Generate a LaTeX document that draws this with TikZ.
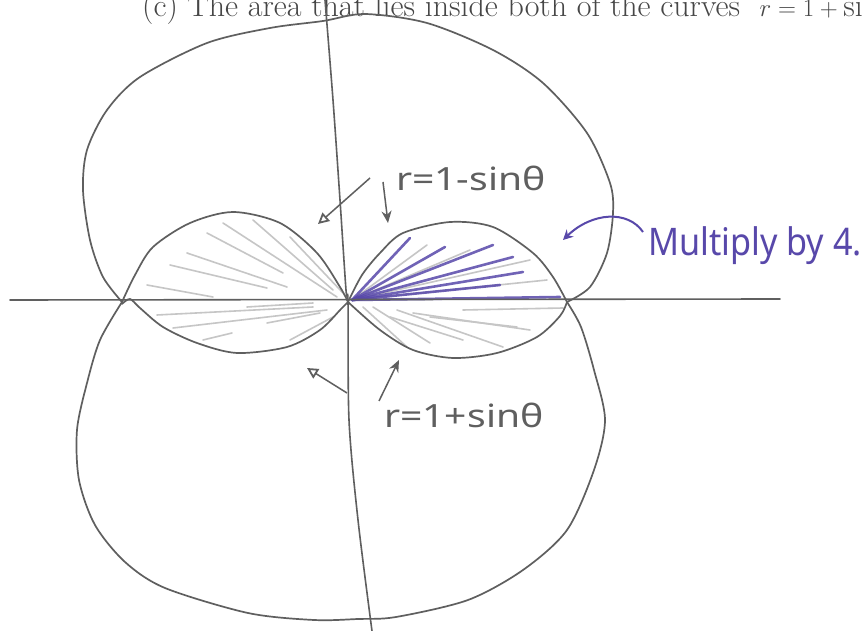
\documentclass[tikz,border=0pt]{standalone}
\usepackage{fontspec}
\newfontfamily\hand{Noto Sans}
\usetikzlibrary{arrows.meta}
\definecolor{ink}{RGB}{95,95,95}
\definecolor{hatch}{RGB}{198,198,198}
\definecolor{pen}{RGB}{88,72,170}
\definecolor{print}{RGB}{70,70,70}
\tikzset{
  curve/.style={draw=ink, line width=1.7pt, line join=round, line cap=round},
  axis/.style={draw=ink, line width=1.6pt, line cap=round},
  hatchline/.style={draw=hatch, line width=1.6pt, line cap=round},
  purpleline/.style={draw=pen, line width=2.6pt, line cap=round, opacity=0.85},
  openarrow/.style={draw=ink, line width=1.5pt, -{Triangle[open,length=11pt,width=11pt,line width=1.8pt]}},
  solidarrow/.style={draw=ink, line width=1.5pt, -{Stealth[length=12pt,width=10pt]}},
  penarrow/.style={draw=pen, line width=2pt, -{Stealth[length=10pt,width=10pt]}},
  lab/.style={text=ink, inner sep=0pt, font=\hand\fontsize{32}{34}\selectfont},
}
\begin{document}
\begin{tikzpicture}[x=1pt,y=-1pt]
\useasboundingbox (0,0) rectangle (863,631);
\clip (0,0) rectangle (863,631);
\fill[white] (0,0) rectangle (863,631);

% title (cut off by the page edge, as in the scan)
\node[anchor=base west, inner sep=0pt, text=print, font=\fontsize{32}{34}\selectfont] (title) at (142,17)
  {(c) The area that lies inside both of the curves \ $r = 1+\sin\theta$};

% hatching, left lens
\foreach \a/\b in {{(223,223)/(337,297)},{(253,220)/(333,290)},{(290,237)/(343,293)},{(207,233)/(283,273)},
  {(187,253)/(287,287)},{(170,265)/(267,288)},{(147,285)/(213,297)},
  {(157,315)/(313,307)},{(173,328)/(327,310)},{(203,340)/(232,333)},{(267,323)/(320,313)},
  {(290,340)/(333,317)},{(247,307)/(313,303)}}
  {\draw[hatchline] \a -- \b;}
% hatching, right lens bottom
\foreach \a/\b in {{(363,307)/(407,347)},{(373,307)/(430,343)},{(397,310)/(503,347)},{(413,313)/(530,330)},
  {(430,317)/(517,327)},{(463,310)/(563,308)},{(390,317)/(463,340)}}
  {\draw[hatchline] \a -- \b;}
% hatching, right lens top (grey)
\foreach \b in {(427,245),(530,260),(547,280),(470,250)}
  {\draw[hatchline] (352,300) -- \b;}
% purple strokes
\foreach \b in {(410,238),(445,247),(493,245),(513,257),(523,272),(560,297),(500,285)}
  {\draw[purpleline] (352,300) -- \b;}

% axes
\draw[axis] (10,300) -- (780,299);
\draw[axis] plot[smooth] coordinates {(325,0) (333,100) (340,200) (346,290) (348,302) (349,420) (358,520) (372,631)};

% big upper curve
\draw[curve] plot[smooth] coordinates {(122,302) (103,277) (90,240) (83,190) (87,150) (107,110) (140,77) (207,43)
  (270,28) (323,21) (365,14) (427,23) (493,50) (543,83) (587,133) (610,183) (613,213) (607,253) (590,287) (567,302)};
% lower big curve
\draw[curve] plot[smooth] coordinates {(122,302) (100,340) (87,383) (77,430) (79,480) (95,525) (125,562) (165,588)
  (248,613) (314,620) (358,619) (396,617) (468,600) (523,570) (567,530) (594,470) (605,420) (594,370) (581,327) (567,302)};
% lenses
\draw[curve] plot[smooth] coordinates {(122,302) (135,275) (153,247) (190,223) (233,212) (280,223) (317,253) (340,287) (348,302)};
\draw[curve] plot[smooth] coordinates {(122,304) (130,299) (140,308) (163,327) (197,343) (237,353) (287,347) (320,330) (341,309) (348,302)};
\draw[curve] plot[smooth] coordinates {(348,302) (362,275) (380,253) (403,233) (450,222) (493,227) (533,253) (553,277) (567,302)};
\draw[curve] plot[smooth] coordinates {(348,302) (380,330) (413,350) (453,358) (497,353) (537,337) (560,316) (567,302)};

% labels
\node[lab, anchor=base west] (lminus) at (396,191) {\scalebox{1.22}[1]{r=1-sinθ}};
\node[lab, anchor=base west] (lplus) at (384,428) {\scalebox{1.22}[1]{r=1+sinθ}};
\node[anchor=base west, inner sep=0pt, text=pen, font=\hand\fontsize{38}{40}\selectfont] (mult) at (648,256)
  {\scalebox{0.9}[1]{Multiply by 4.}};

% arrows
\coordinate (a1t) at (370,178); \coordinate (a1h) at (318,224);
\draw[openarrow] (a1t) -- (a1h);
\coordinate (a2t) at (383,182); \coordinate (a2h) at (388,223);
\draw[solidarrow] (a2t) -- (a2h);
\coordinate (a3t) at (347,393); \coordinate (a3h) at (307,368);
\draw[openarrow] (a3t) -- (a3h);
\coordinate (a4t) at (379,401); \coordinate (a4h) at (399,360);
\draw[solidarrow] (a4t) -- (a4h);
\coordinate (a5t) at (643,232); \coordinate (a5h) at (563,240);
\draw[penarrow] (a5t) .. controls (628,210) and (592,212) .. (a5h);
\end{tikzpicture}
\end{document}
